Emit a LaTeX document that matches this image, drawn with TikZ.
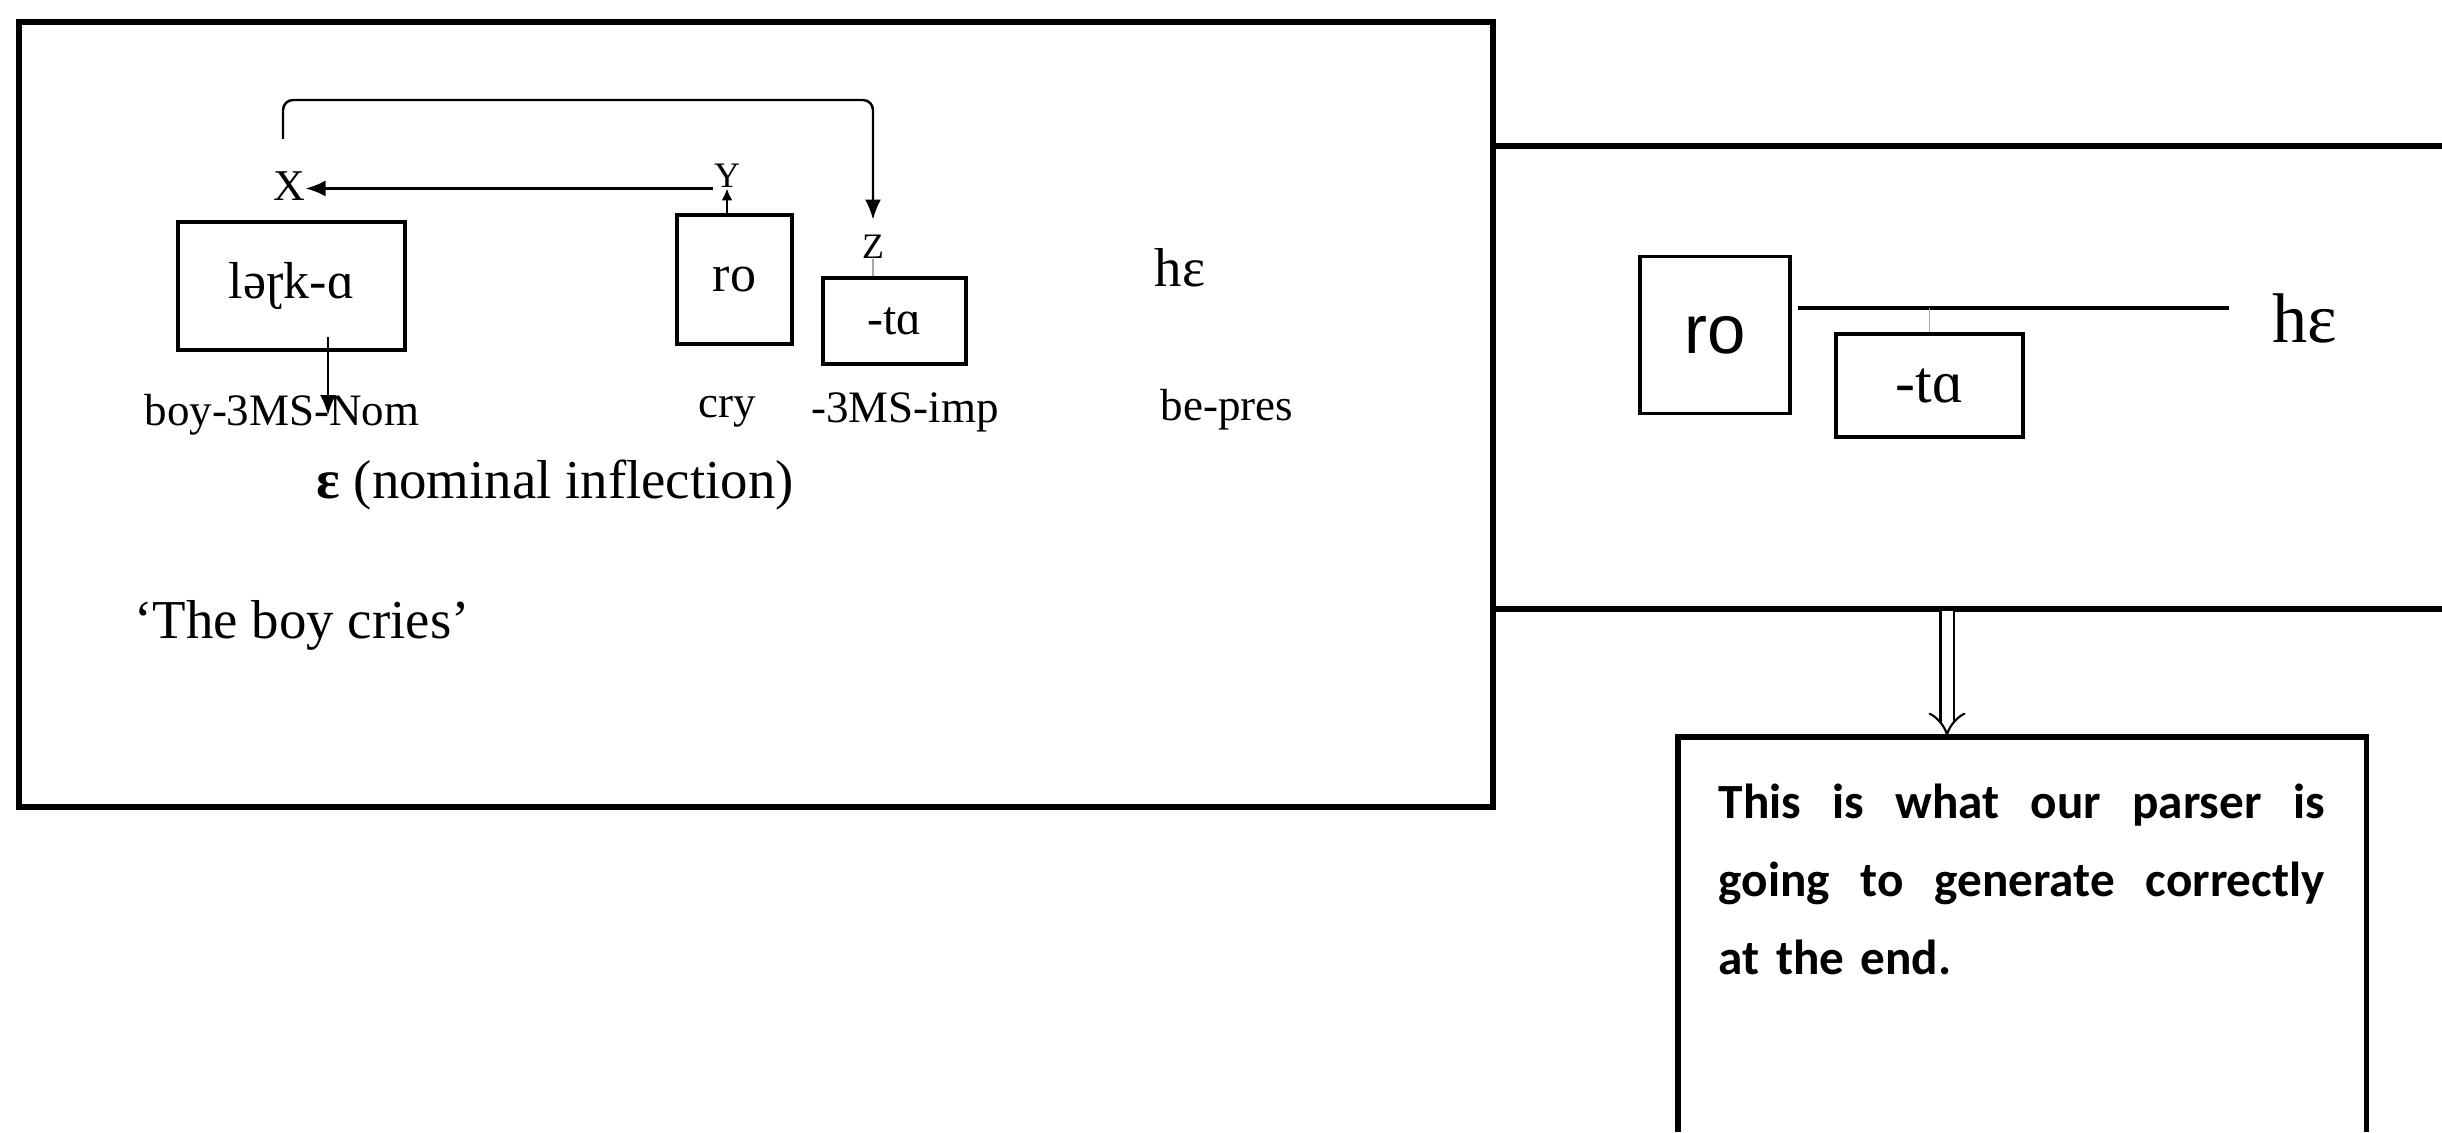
\documentclass[tikz,border=0pt]{standalone}
\usepackage{fontspec}
\setmainfont{Liberation Serif}
\newfontfamily\notefont{Carlito}
\newfontfamily\sansR{Liberation Sans}
\usetikzlibrary{arrows.meta,calc}
\setlength{\parindent}{0pt}
\newcommand{\pxfont}[1]{\fontsize{#1pt}{#1pt}\selectfont}
\newcommand{\fillline}[1]{\leavevmode\hbox to 60.6mm{#1}}
\tikzset{
  panelline/.style={line width=1.5pt},
  wbox/.style={draw, line width=1pt, inner sep=0pt},
  txt/.style={inner sep=0pt},
  lbl/.style={inner sep=0pt, font=\pxfont{12.8}},
  xyz/.style={inner sep=0pt, font=\pxfont{10.2}},
  arr/.style={line width=0.7pt, -{Latex[length=2mm,width=1.6mm]}},
  smallarr/.style={line width=0.6pt, -{Latex[length=1.2mm,width=1.1mm]}},
  faint/.style={line width=0.5pt, gray!70},
  dblarr/.style={double, double distance=1.1mm, line width=0.6pt, -{Implies[length=1.6mm,width=3mm]}},
  notebox/.style={inner xsep=4mm, inner ysep=4.6mm, text width=60.7mm, align=left,
    font=\notefont\bfseries\fontsize{14pt}{22.2pt}\selectfont},
}
\begin{document}
\begin{tikzpicture}[x=0.1mm, y=-0.1mm]
\useasboundingbox (0,0) rectangle (2442,1132);
\fill[white] (0,0) rectangle (2442,1132);

% ---------- left panel ----------
\draw[panelline] (19,22) rectangle (1493,807);

\node[wbox, minimum width=22.7mm, minimum height=12.8mm, font=\pxfont{14.8}] (lark) at (291.5,286) {ləɽk-ɑ};
\node[wbox, minimum width=11.5mm, minimum height=12.9mm, font=\pxfont{14.8}] (roL) at (734.5,279.5) {ro};
\node[wbox, minimum width=14.3mm, minimum height=8.6mm, font=\pxfont{13.6}] (taL) at (894.5,321) {-tɑ};
\node[txt, font=\pxfont{15.6}] (heL) at (1180,268) {hɛ};

\node[xyz, font=\pxfont{12.5}] (X) at (289,186) {X};
\node[xyz] (Y) at (727,176) {Y};
\node[xyz] (Z) at (873,247) {Z};

\node[lbl] (boy) at (282,415) {boy-3MS-Nom};
\node[lbl] (cry) at (727,412) {cry};
\node[lbl] (imp) at (905,412) {-3MS-imp};
\node[lbl] (pres) at (1227,410) {be-pres};

\node[txt, anchor=west, font=\pxfont{15.6}] (infl) at (316,485) {\textbf{ɛ} (nominal inflection)};
\node[txt, anchor=west, font=\pxfont{15.6}] (gloss) at (134,625) {‘The boy cries’};

% connectors
\coordinate (brk) at (0,100);
\coordinate (xtop) at ([xshift=-0.6mm,yshift=3.2mm]X.north);
\coordinate (ztop) at ([yshift=1.5mm]Z.north);
\draw[arr, rounded corners=1mm] (xtop) -- (xtop |- brk) -- (ztop |- brk) -- (ztop);
\draw[smallarr] (Y.south |- roL.north) -- (Y.south);
\draw[arr] (Y.south west) -- (X.east |- Y.south west);
\draw[faint] (Z.south) -- (Z.south |- taL.north);
\coordinate (lk) at ([xshift=3.65mm,yshift=1.5mm]lark.south);
\draw[arr] (lk) -- (lk |- boy.center);

% ---------- right panel ----------
\draw[panelline] (1493,146) -- (2442,146);
\draw[panelline] (1493,609) -- (2442,609);

\node[wbox, minimum width=15mm, minimum height=15.7mm, font=\sansR\pxfont{19.6}] (roR) at (1715,335) {ro};
\node[wbox, minimum width=18.7mm, minimum height=10.3mm, font=\pxfont{17}] (taR) at (1929.5,385.5) {-tɑ};
\node[txt, font=\pxfont{20}] (heR) at (2305,318) {hɛ};

\coordinate (lnL) at ([xshift=0.6mm,yshift=2.7mm]roR.east);
\coordinate (lnR) at ([xshift=-4.3mm]heR.west);
\draw[line width=0.9pt] (lnL) -- (lnL -| lnR);
\draw[faint] (taR.north |- lnL) -- (taR.north);

% ---------- note ----------
\node[notebox, anchor=north west] (note) at (1678,737) {%
\fillline{This\hfill is\hfill what\hfill our\hfill parser\hfill is}\\
\fillline{going\hfill to\hfill generate\hfill correctly}\\
at the end.};
\coordinate (pb) at (0,1132);
\draw[panelline] (note.north west |- pb) -- (note.north west) -- (note.north east) -- (note.north east |- pb);
\coordinate (dA) at (1947,611);
\draw[dblarr] (dA) -- (dA |- note.north);
\end{tikzpicture}
\end{document}
